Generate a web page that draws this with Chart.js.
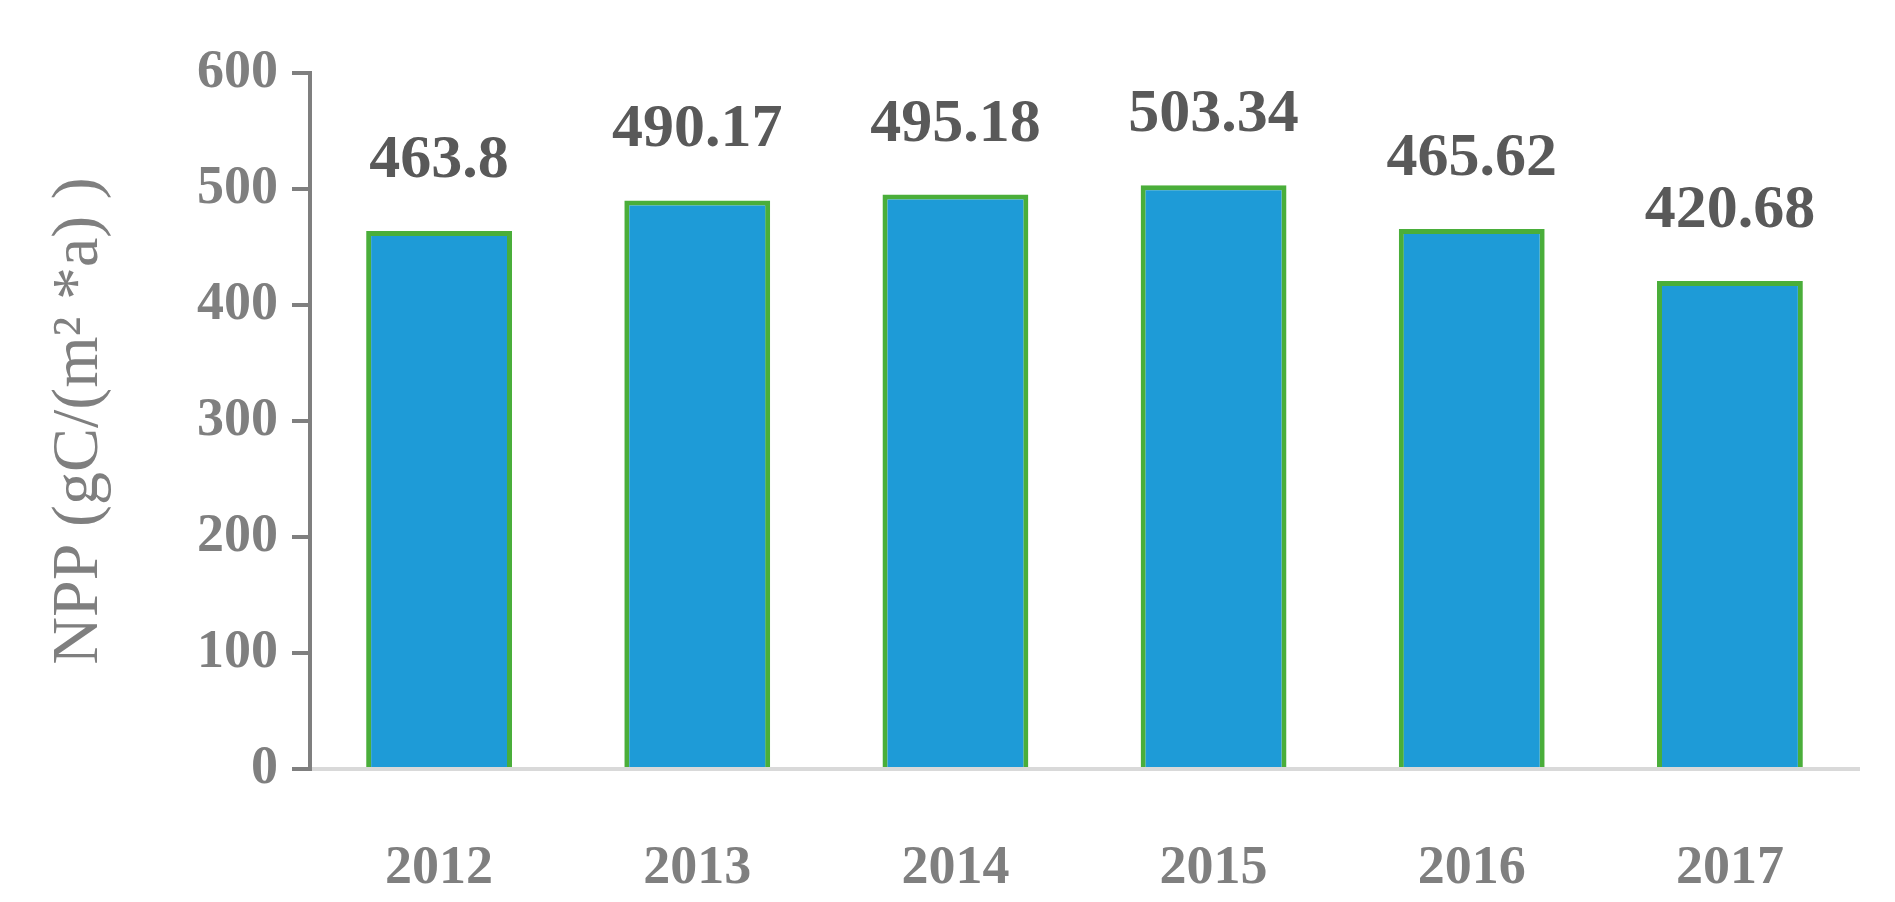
<!DOCTYPE html>
<html>
<head>
<meta charset="utf-8">
<script src="https://cdn.jsdelivr.net/npm/chart.js@4"></script>
<style>
  html, body { margin: 0; padding: 0; background: #fff; }
  #wrap { width: 1895px; height: 902px; }
</style>
</head>
<body>
<div id="wrap"><canvas id="mycanvas"></canvas></div>
<script>
var years = ['2012', '2013', '2014', '2015', '2016', '2017'];
var npp = [463.8, 490.17, 495.18, 503.34, 465.62, 420.68];
var nppLabels = ['463.8', '490.17', '495.18', '503.34', '465.62', '420.68'];

var valueLabels = {
  id: 'valueLabels',
  afterDatasetsDraw: function(chart) {
    var ctx = chart.ctx;
    var meta = chart.getDatasetMeta(0);
    ctx.save();
    ctx.font = 'bold 62px "Liberation Serif"';
    ctx.fillStyle = '#595959';
    ctx.textAlign = 'center';
    ctx.textBaseline = 'middle';
    meta.data.forEach(function(bar, i) {
      ctx.fillText(nppLabels[i], bar.x, bar.y - 70);
    });
    ctx.restore();
  }
};

new Chart(document.getElementById('mycanvas'), {
  type: 'bar',
  data: {
    labels: years,
    datasets: [{
      data: npp,
      backgroundColor: '#1e9bd7',
      borderColor: '#4aae3a',
      borderWidth: 5,
      categoryPercentage: 1,
      barPercentage: 0.565
    }]
  },
  options: {
    responsive: true,
    maintainAspectRatio: false,
    animation: false,
    layout: { padding: { left: 0, top: 73, right: 36, bottom: 0 } },
    plugins: { legend: { display: false }, tooltip: { enabled: false } },
    scales: {
      x: {
        grid: { display: false },
        border: { color: '#d9d9d9', width: 4 },
        ticks: { color: '#7f7f7f', padding: 60, font: { family: 'Liberation Serif', size: 54, weight: 'bold' } },
        afterFit: function(s) { s.height = 133; }
      },
      y: {
        min: 0, max: 600,
        ticks: { stepSize: 100, color: '#7f7f7f', padding: 14, font: { family: 'Liberation Serif', size: 54, weight: 'bold' } },
        grid: { drawOnChartArea: false, tickLength: 18, color: '#7f7f7f', lineWidth: 4 },
        border: { color: '#7f7f7f', width: 4 },
        title: {
          display: true,
          text: 'NPP (gC/(m² *a) )',
          color: '#7f7f7f',
          padding: { top: 40, bottom: 0 },
          font: { family: 'Liberation Serif', size: 66 }
        },
        afterFit: function(s) { s.width = 310; }
      }
    }
  },
  plugins: [valueLabels]
});
</script>
</body>
</html>
